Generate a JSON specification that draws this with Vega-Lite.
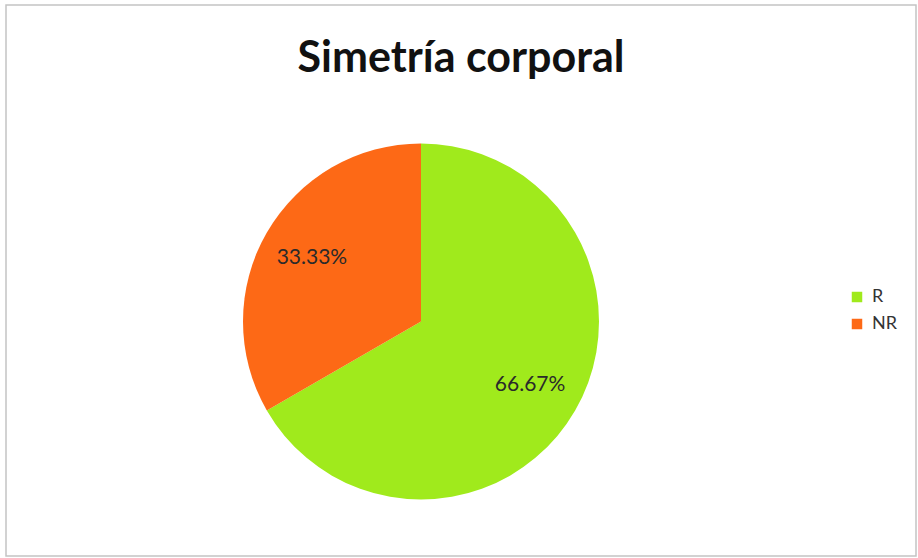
{
  "$schema": "https://vega.github.io/schema/vega-lite/v6.json",
  "width": 918,
  "height": 558,
  "autosize": {"type": "fit", "contains": "padding"},
  "padding": {"left": 6, "top": 5, "right": 2, "bottom": 2},
  "background": "white",
  "view": {"stroke": "#c4c4c4", "strokeWidth": 1.5},
  "title": {
    "text": "Simetría corporal",
    "font": "Lato",
    "fontSize": 43,
    "fontWeight": "bold",
    "color": "#111111",
    "anchor": "middle",
    "offset": -76
  },
  "config": {
    "view": {"stroke": "#c4c4c4", "strokeWidth": 1.5}
  },
  "data": {
    "values": [
      {"grupo": "R", "pct": 66.67, "label": "66.67%"},
      {"grupo": "NR", "pct": 33.33, "label": "33.33%"}
    ]
  },
  "encoding": {
    "theta": {"field": "pct", "type": "quantitative", "stack": true},
    "order": {"field": "pct", "type": "quantitative", "sort": "descending"},
    "color": {
      "field": "grupo",
      "type": "nominal",
      "scale": {"domain": ["R", "NR"], "range": ["#a0ea1c", "#fd6916"]},
      "legend": {
        "title": null,
        "orient": "none",
        "legendX": 842,
        "legendY": 283,
        "symbolType": "square",
        "symbolSize": 110,
        "symbolStrokeWidth": 0,
        "labelFont": "Lato",
        "labelFontSize": 18,
        "labelColor": "#333333",
        "rowPadding": 9,
        "labelOffset": 6
      }
    }
  },
  "layer": [
    {
      "mark": {
        "type": "arc",
        "outerRadius": 178,
        "x": {"expr": "width/2 - 40"},
        "y": {"expr": "height/2 + 41"}
      }
    },
    {
      "mark": {
        "type": "text",
        "radius": 126,
        "x": {"expr": "width/2 - 40"},
        "y": {"expr": "height/2 + 41"},
        "font": "Lato",
        "fontSize": 21,
        "color": "#2a2a2a"
      },
      "encoding": {
        "text": {"field": "label", "type": "nominal"},
        "color": {"value": "#2a2a2a"}
      }
    }
  ]
}
